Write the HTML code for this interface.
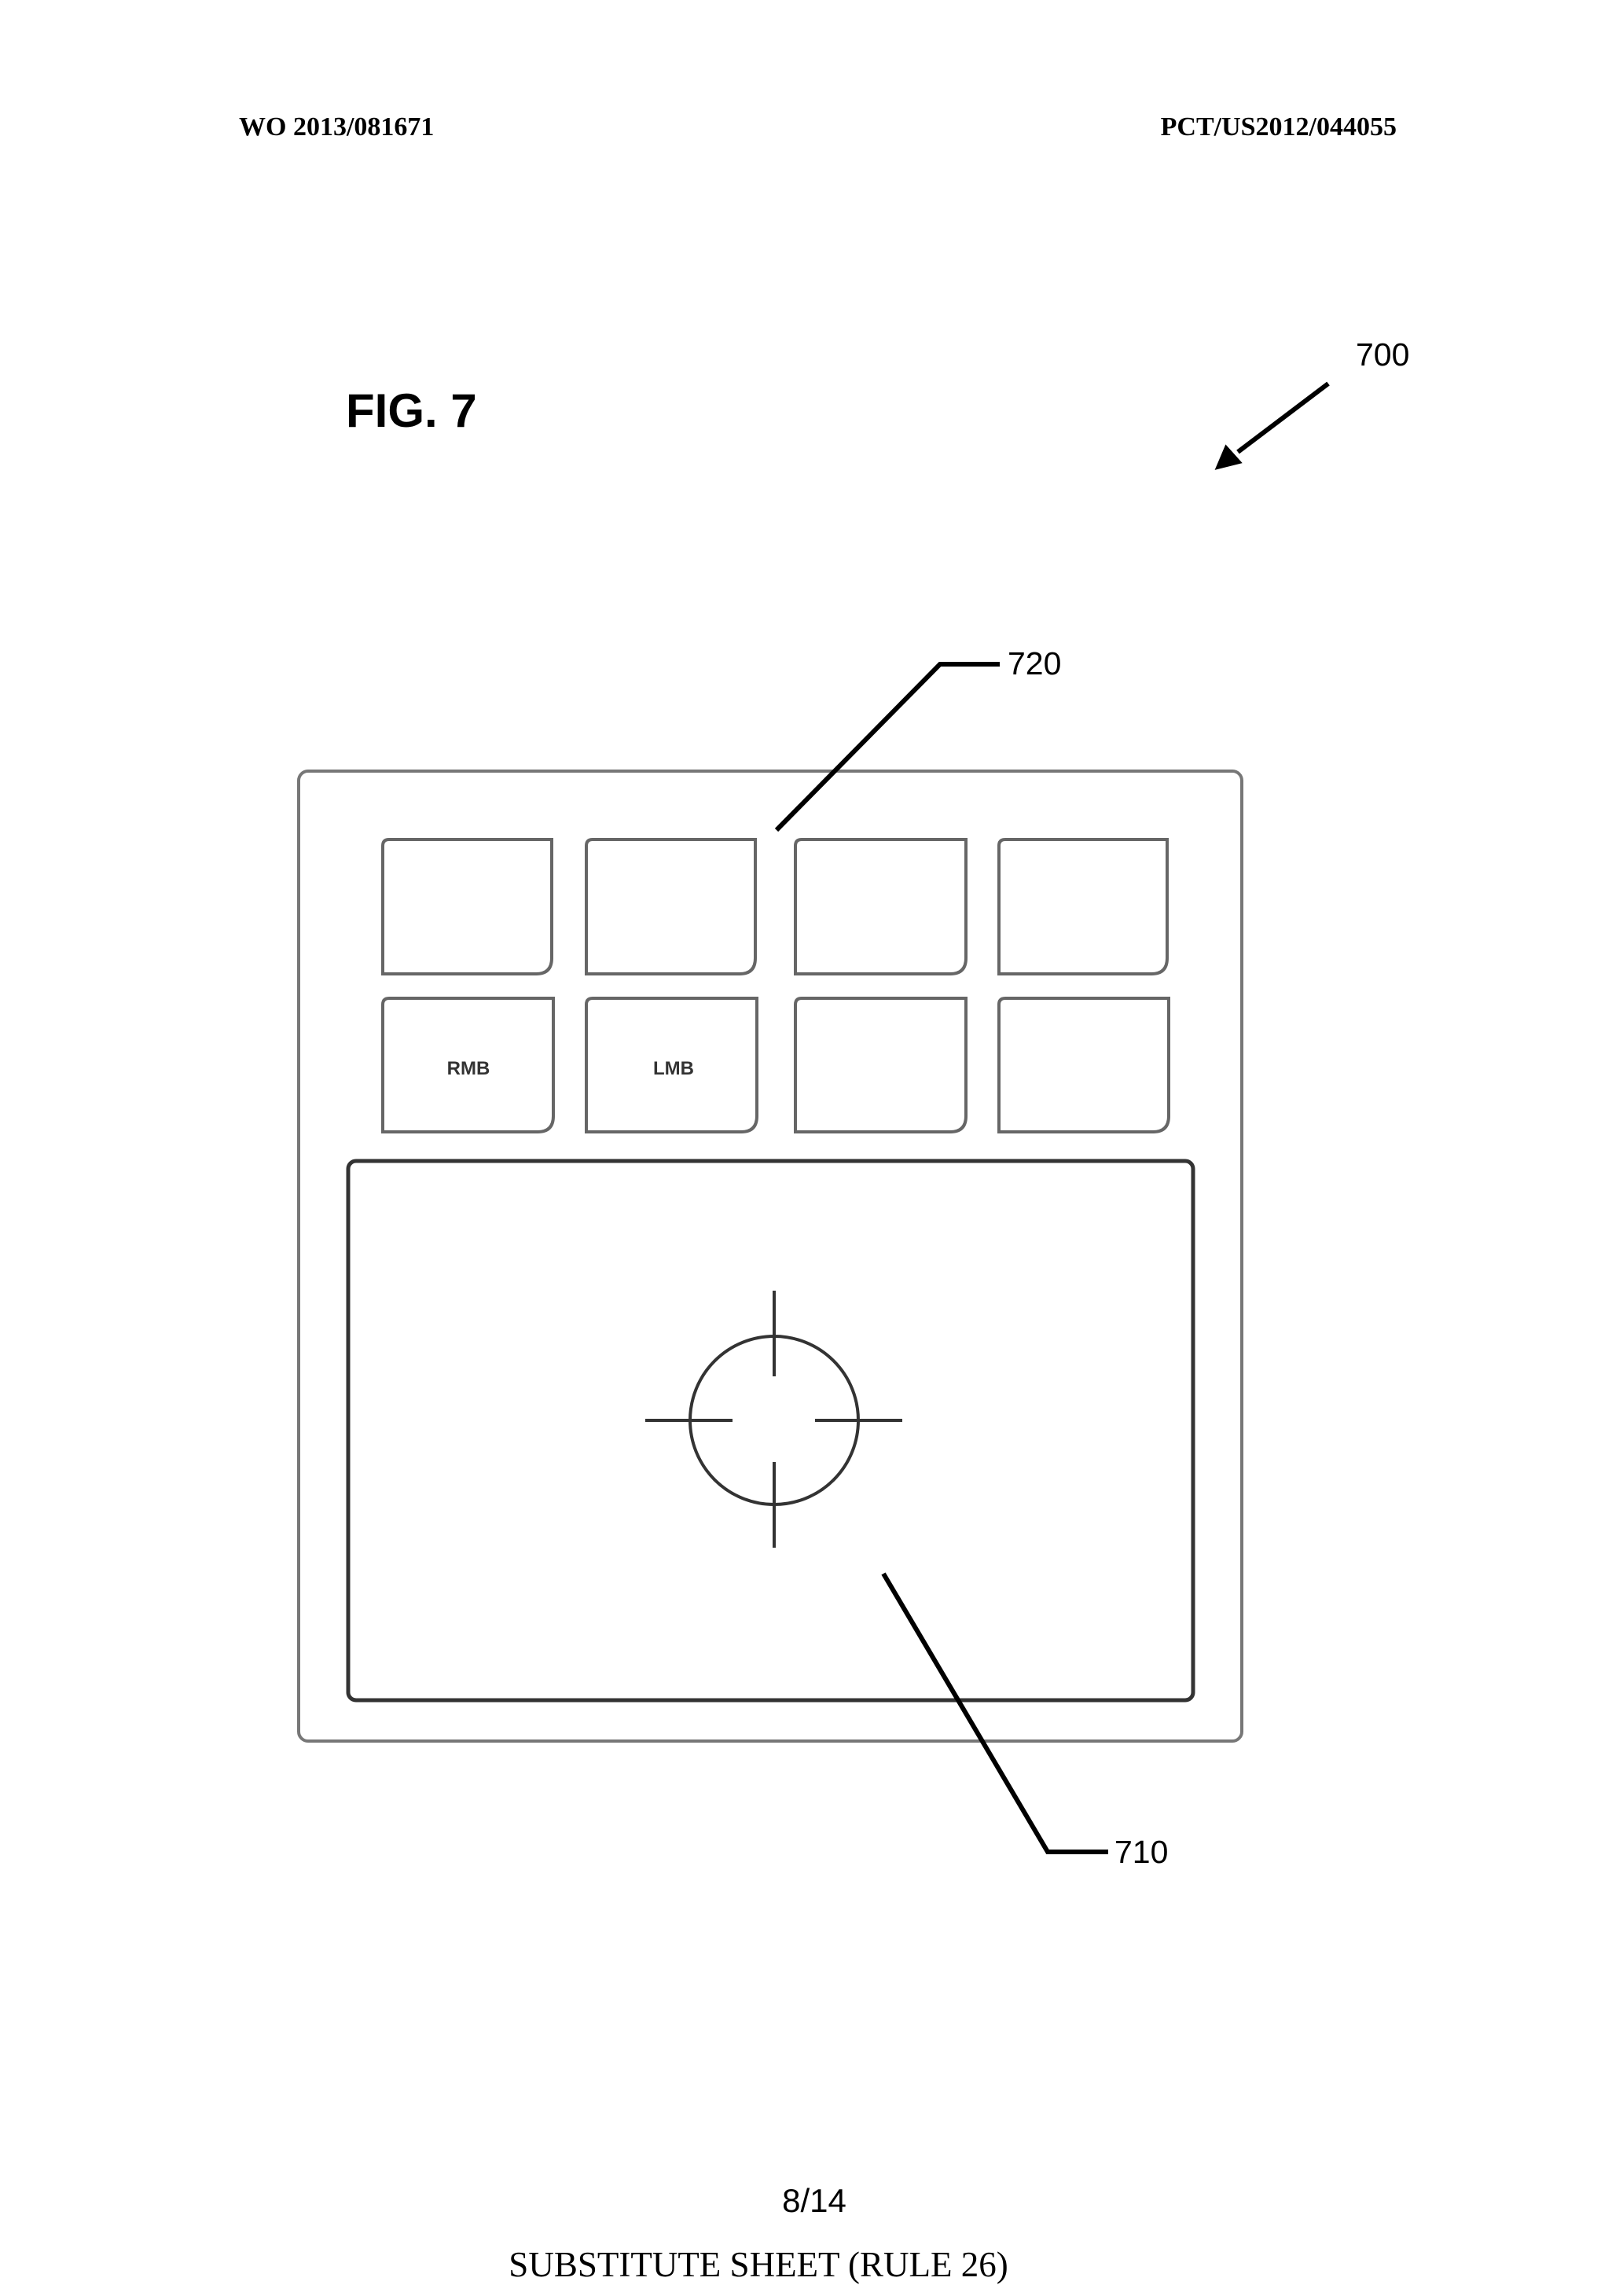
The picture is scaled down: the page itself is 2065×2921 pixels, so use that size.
<!DOCTYPE html>
<html><head><style>
body{margin:0;background:#fff;}
svg{display:block}
</style></head><body>
<svg width="2065" height="2921" viewBox="0 0 2065 2921" xmlns="http://www.w3.org/2000/svg">
<rect width="2065" height="2921" fill="#fff"/>
<g font-family="Liberation Serif, serif" font-weight="bold" font-size="34" fill="#000">
<text x="304" y="172">WO 2013/081671</text>
<text x="1777" y="172" text-anchor="end">PCT/US2012/044055</text>
</g>
<text x="440" y="543" font-family="Liberation Sans, sans-serif" font-weight="bold" font-size="60">FIG. 7</text>
<text x="1725" y="465" font-family="Liberation Sans, sans-serif" font-size="41">700</text>
<line x1="1690" y1="488" x2="1575" y2="575" stroke="#000" stroke-width="6"/>
<polygon points="1549,595 1560,569 1577,588" fill="#000" stroke="#000" stroke-width="4"/>
<!-- outer box -->
<rect x="380" y="981" width="1200" height="1234" rx="12" fill="none" stroke="#777" stroke-width="4"/>
<g fill="none" stroke="#666" stroke-width="4">
<path d="M495,1068 H702 V1219 Q702,1239 682,1239 H487 V1076 Q487,1068 495,1068Z"/>
<path d="M754,1068 H961 V1219 Q961,1239 941,1239 H746 V1076 Q746,1068 754,1068Z"/>
<path d="M1020,1068 H1229 V1219 Q1229,1239 1209,1239 H1012 V1076 Q1012,1068 1020,1068Z"/>
<path d="M1279,1068 H1485 V1219 Q1485,1239 1465,1239 H1271 V1076 Q1271,1068 1279,1068Z"/>
<path d="M495,1270 H704 V1420 Q704,1440 684,1440 H487 V1278 Q487,1270 495,1270Z"/>
<path d="M754,1270 H963 V1420 Q963,1440 943,1440 H746 V1278 Q746,1270 754,1270Z"/>
<path d="M1020,1270 H1229 V1420 Q1229,1440 1209,1440 H1012 V1278 Q1012,1270 1020,1270Z"/>
<path d="M1279,1270 H1487 V1420 Q1487,1440 1467,1440 H1271 V1278 Q1271,1270 1279,1270Z"/>
</g>
<g font-family="Liberation Sans, sans-serif" font-weight="bold" font-size="24" fill="#333" text-anchor="middle">
<text x="596" y="1367">RMB</text>
<text x="857" y="1367">LMB</text>
</g>
<rect x="443" y="1477" width="1075" height="686" rx="10" fill="none" stroke="#333" stroke-width="5"/>
<circle cx="985" cy="1807" r="107" fill="none" stroke="#333" stroke-width="4"/>
<g stroke="#333" stroke-width="4">
<line x1="985" y1="1642" x2="985" y2="1751"/>
<line x1="985" y1="1860" x2="985" y2="1969"/>
<line x1="821" y1="1807" x2="932" y2="1807"/>
<line x1="1037" y1="1807" x2="1148" y2="1807"/>
</g>
<polyline points="988,1056 1196,845 1272,845" fill="none" stroke="#000" stroke-width="6"/>
<text x="1282" y="858" font-family="Liberation Sans, sans-serif" font-size="41">720</text>
<polyline points="1124,2002 1333,2356 1410,2356" fill="none" stroke="#000" stroke-width="6"/>
<text x="1418" y="2370" font-family="Liberation Sans, sans-serif" font-size="41">710</text>
<text x="1036" y="2814" font-family="Liberation Sans, sans-serif" font-size="42" text-anchor="middle">8/14</text>
<text x="965" y="2896" font-family="Liberation Serif, serif" font-size="45" text-anchor="middle">SUBSTITUTE SHEET (RULE 26)</text>
</svg>
</body></html>
